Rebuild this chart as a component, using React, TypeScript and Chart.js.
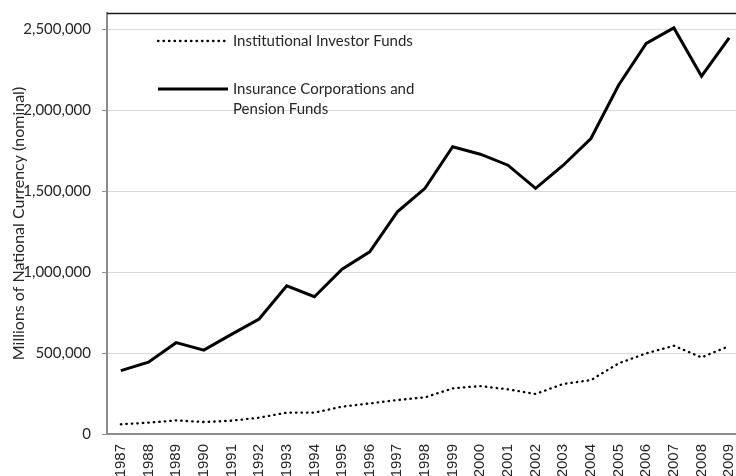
import React, { useEffect, useRef } from "react";
import { Chart, registerables } from "chart.js";

Chart.register(...registerables);

const years = [
  "1987", "1988", "1989", "1990", "1991", "1992", "1993", "1994", "1995", "1996", "1997", "1998",
  "1999", "2000", "2001", "2002", "2003", "2004", "2005", "2006", "2007", "2008", "2009",
];

const institutionalInvestorFunds = [
  60000, 70000, 84000, 74000, 82000, 101000, 132000, 132000, 169000, 189000, 210000, 226000,
  282000, 296000, 276000, 247000, 309000, 333000, 436000, 498000, 545000, 473000, 543000,
];

const insurancePensionFunds = [
  391000, 444000, 564000, 518000, 615000, 710000, 915000, 848000, 1018000, 1125000, 1372000, 1517000,
  1774000, 1728000, 1660000, 1517000, 1660000, 1825000, 2154000, 2412000, 2508000, 2210000, 2446000,
];

const yTickValues = [0, 500000, 1000000, 1500000, 2000000, 2500000];

const legendLines = [
  ["Institutional Investor Funds"],
  ["Insurance Corporations and", "Pension Funds"],
];

const yAxisTitle = "Millions of National Currency (nominal)";
const yMin = 0;
const yMax = 2600000;

const textColor = "#262626";
const calibriLike = "Lato";

const overlayPlugin = {
  id: "overlay",
  afterDatasetsDraw(chart: any) {
    const { ctx, chartArea } = chart;
    ctx.save();
    // top frame line
    ctx.strokeStyle = "#1a1a1a";
    ctx.lineWidth = 1.3;
    ctx.beginPath();
    ctx.moveTo(chartArea.left, chartArea.top + 0.5);
    ctx.lineTo(chartArea.right, chartArea.top + 0.5);
    ctx.stroke();

    // legend
    chart.data.datasets.forEach((ds: any, i: number) => {
      const y = chartArea.top + 28 + i * 48;
      const x0 = chartArea.left + 51;
      const x1 = chartArea.left + 121;
      ctx.strokeStyle = ds.borderColor;
      ctx.lineWidth = ds.borderWidth;
      ctx.lineCap = ds.borderCapStyle || "butt";
      ctx.setLineDash(ds.borderDash || []);
      ctx.beginPath();
      ctx.moveTo(x0, y);
      ctx.lineTo(x1, y);
      ctx.stroke();
      ctx.setLineDash([]);
      ctx.fillStyle = textColor;
      ctx.font = `15px ${calibriLike}`;
      ctx.textAlign = "left";
      ctx.textBaseline = "middle";
      (legendLines[i] || [ds.label]).forEach((t: string, j: number) => {
        ctx.fillText(t, x1 + 5, y + j * 20);
      });
    });
    ctx.restore();
  },
};

export default function App() {
  const canvasRef = useRef<HTMLCanvasElement | null>(null);

  useEffect(() => {
    if (!canvasRef.current) return;
    const chart = new Chart(canvasRef.current, {
      type: "line",
      data: {
        labels: years,
        datasets: [
          {
            label: legendLines[0].join(" "),
            data: institutionalInvestorFunds,
            borderColor: "#000000",
            borderWidth: 2.3,
            borderDash: [0.5, 5],
            borderCapStyle: "round",
            pointRadius: 0,
            tension: 0,
            fill: false,
          },
          {
            label: legendLines[1].join(" "),
            data: insurancePensionFunds,
            borderColor: "#000000",
            borderWidth: 3,
            borderJoinStyle: "miter",
            pointRadius: 0,
            tension: 0,
            fill: false,
          },
        ],
      },
      options: {
        animation: false,
        responsive: false,
        maintainAspectRatio: false,
        layout: { padding: { top: 13, left: 0, right: 0, bottom: 0 } },
        plugins: {
          legend: { display: false },
          tooltip: { enabled: false },
          title: { display: false },
        },
        scales: {
          x: {
            type: "category",
            offset: true,
            afterFit: (s: any) => {
              s.height = 56;
              s.paddingLeft = 0;
              s.paddingRight = 0;
            },
            ticks: {
              autoSkip: false,
              minRotation: 90,
              maxRotation: 90,
              padding: 4,
              color: textColor,
              font: { family: "Liberation Sans", size: 15 },
            },
            grid: {
              display: true,
              drawOnChartArea: false,
              drawTicks: true,
              tickLength: 6,
              tickColor: "rgba(0,0,0,0)",
            },
            border: { display: true, color: "#8c8c8c", width: 2 },
          },
          y: {
            type: "linear",
            min: yMin,
            max: yMax,
            afterBuildTicks: (s: any) => {
              s.ticks = yTickValues.map((v) => ({ value: v }));
            },
            afterFit: (s: any) => {
              s.width = 107;
              s.paddingTop = 0;
              s.paddingBottom = 0;
            },
            ticks: {
              padding: 11,
              color: textColor,
              font: { family: calibriLike, size: 15 },
              callback: (v: any) => Number(v).toLocaleString("en-US"),
            },
            grid: {
              color: "#d9d9d9",
              lineWidth: 1,
              drawTicks: true,
              tickLength: 5,
              tickColor: "#8c8c8c",
            },
            border: { display: true, color: "#8c8c8c", width: 2 },
            title: {
              display: true,
              text: yAxisTitle,
              color: textColor,
              font: { family: calibriLike, size: 16 },
              padding: { top: 9, bottom: 0 },
            },
          },
        },
      },
      plugins: [overlayPlugin],
    });
    return () => chart.destroy();
  }, []);

  return (
    <div
      style={{
        position: "fixed",
        left: 0,
        top: 0,
        width: 736,
        height: 476,
        overflow: "hidden",
        background: "#ffffff",
      }}
    >
      <canvas ref={canvasRef} width={743} height={490} style={{ display: "block" }} />
    </div>
  );
}
